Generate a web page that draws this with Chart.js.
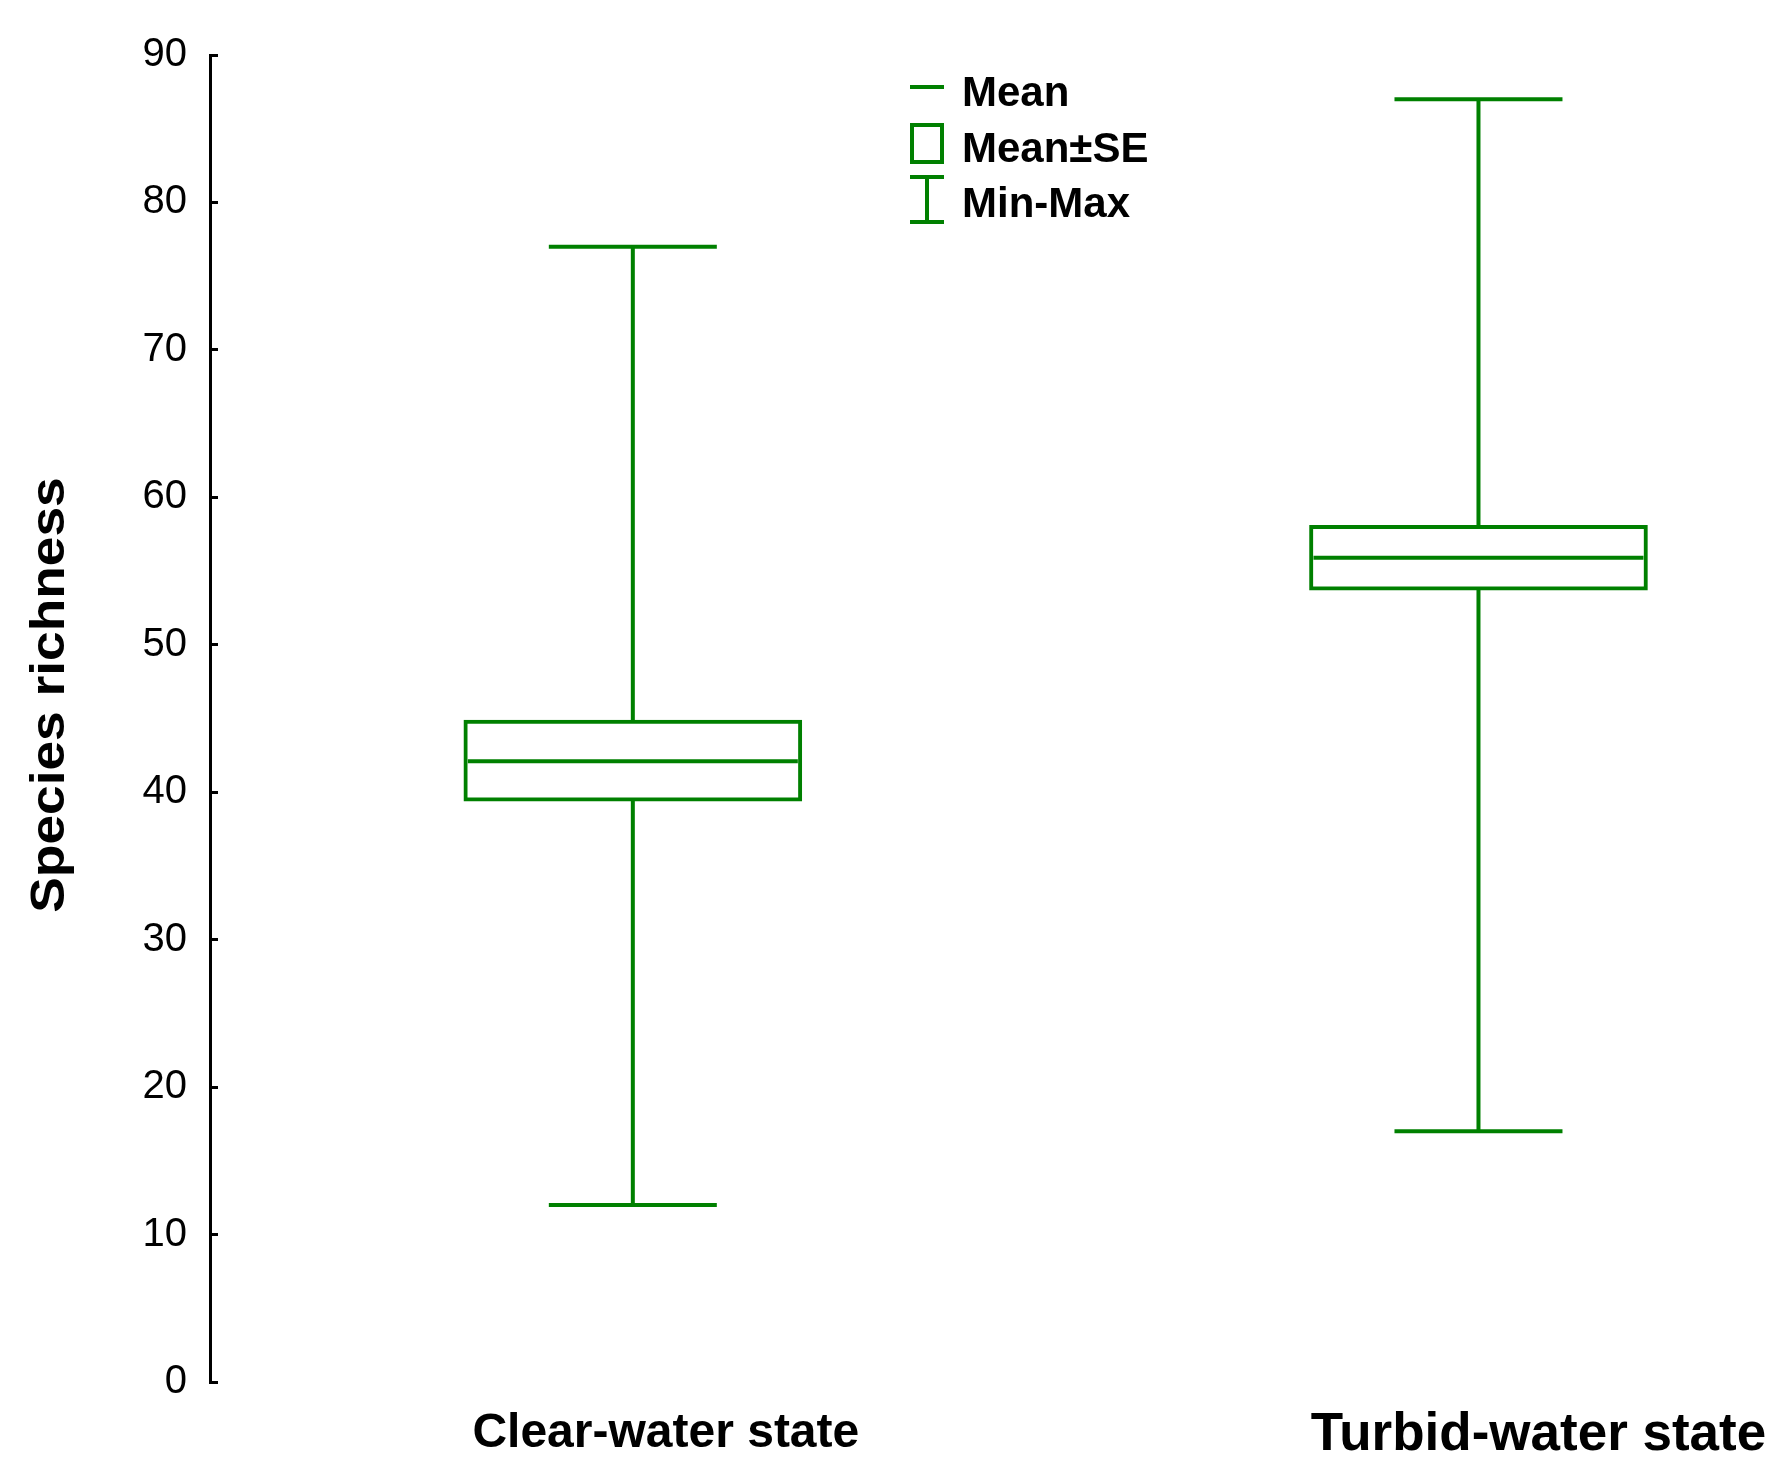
<!DOCTYPE html>
<html>
<head>
<meta charset="utf-8">
<script src="https://cdn.jsdelivr.net/npm/chart.js@4/dist/chart.umd.min.js"></script>
<style>
  html, body { margin: 0; padding: 0; background: #fff; }
  #wrap { width: 1776px; height: 1460px; position: relative; }
</style>
</head>
<body>
<div id="wrap"><canvas id="chart"></canvas></div>
<script>
const categories = ['Clear-water state', 'Turbid-water state'];
const positions = [1, 2];
const means = [42.1, 55.9];
const seLow = [39.4, 53.7];
const seHigh = [44.9, 58.1];
const minVals = [12, 17];
const maxVals = [77, 87];
const legendLabels = ['Mean', 'Mean\u00b1SE', 'Min-Max'];
const yTitle = 'Species richness';

const GREEN = '#008000';
const FONT = '"Liberation Sans", Arial, sans-serif';

// the wide 'line' points would otherwise push a huge padding round the plot
Chart.LineController.prototype.getMaxOverflow = function () { return 2; };

// whisker segments, broken by a null between the two groups
const whiskerData = [];
positions.forEach((p, i) => {
  if (i > 0) whiskerData.push({ x: p - 0.5, y: null });
  whiskerData.push({ x: p, y: maxVals[i] });
  whiskerData.push({ x: p, y: minVals[i] });
});

const capData = [];
positions.forEach((p, i) => {
  capData.push({ x: p, y: maxVals[i] });
  capData.push({ x: p, y: minVals[i] });
});

// axis title, category labels and the little legend
const extras = {
  id: 'extras',
  afterDraw(chart) {
    const ctx = chart.ctx;
    const xs = chart.scales.x;
    const area = chart.chartArea;
    ctx.save();
    ctx.fillStyle = '#000';

    // category labels (sit a bit right of the boxes, like the original)
    const shift = [33, 60];
    const fonts = ['bold 48px ' + FONT, 'bold 53px ' + FONT];
    const drop = [65, 68];
    ctx.textAlign = 'center';
    ctx.textBaseline = 'alphabetic';
    categories.forEach((c, i) => {
      ctx.font = fonts[i];
      ctx.fillText(c, xs.getPixelForValue(positions[i]) + shift[i], area.bottom + drop[i]);
    });

    // y title, a little stretched along its length like the original
    ctx.save();
    ctx.translate(64, 695);
    ctx.rotate(-Math.PI / 2);
    ctx.scale(1.11, 1);
    ctx.font = 'bold 48px ' + FONT;
    ctx.fillText(yTitle, 0, 0);
    ctx.restore();

    // legend
    ctx.strokeStyle = GREEN;
    ctx.lineWidth = 4;
    ctx.beginPath();
    ctx.moveTo(910, 87); ctx.lineTo(944, 87);
    ctx.stroke();
    ctx.strokeRect(912, 125, 30, 37);
    ctx.beginPath();
    ctx.moveTo(910, 177); ctx.lineTo(944, 177);
    ctx.moveTo(927, 177); ctx.lineTo(927, 222);
    ctx.moveTo(910, 222); ctx.lineTo(944, 222);
    ctx.stroke();
    ctx.font = 'bold 42px ' + FONT;
    ctx.textAlign = 'left';
    ctx.textBaseline = 'alphabetic';
    const rowBase = [106, 162, 217];
    legendLabels.forEach((t, i) => ctx.fillText(t, 962, rowBase[i]));
    ctx.restore();
  }
};

new Chart(document.getElementById('chart'), {
  type: 'bar',
  data: {
    datasets: [
      {
        type: 'line',
        label: 'Mean',
        data: positions.map((p, i) => ({ x: p, y: means[i] })),
        showLine: false,
        pointStyle: 'line',
        pointRadius: 165,
        pointHoverRadius: 165,
        pointBorderColor: GREEN,
        pointBorderWidth: 4,
        clip: false,
        order: 0
      },
      {
        label: 'Mean\u00b1SE',
        data: positions.map((p, i) => ({ x: p, y: [seLow[i], seHigh[i]] })),
        backgroundColor: '#fff',
        borderColor: GREEN,
        borderWidth: 4,
        borderSkipped: false,
        barThickness: 338,
        order: 1
      },
      {
        type: 'line',
        label: 'whisker',
        data: whiskerData,
        borderColor: GREEN,
        borderWidth: 4,
        pointRadius: 0,
        spanGaps: false,
        order: 3
      },
      {
        type: 'line',
        label: 'caps',
        data: capData,
        showLine: false,
        pointStyle: 'line',
        pointRadius: 84,
        pointHoverRadius: 84,
        pointBorderColor: GREEN,
        pointBorderWidth: 4,
        clip: false,
        order: 2
      }
    ]
  },
  options: {
    responsive: true,
    maintainAspectRatio: false,
    animation: false,
    events: [],
    layout: { padding: { top: 54, bottom: 78, left: 0, right: 10 } },
    scales: {
      x: {
        type: 'linear',
        display: false,
        offset: false,
        min: 0.5,
        max: 2.34
      },
      y: {
        min: 0,
        max: 90,
        afterFit: (scale) => { scale.width = 210; },
        ticks: {
          stepSize: 10,
          color: '#000',
          padding: 31,
          font: { family: FONT, size: 40 }
        },
        grid: {
          drawOnChartArea: false,
          drawTicks: true,
          tickLength: -8,
          color: '#000',
          lineWidth: 3
        },
        border: { display: true, color: '#000', width: 3 }
      }
    },
    plugins: {
      legend: { display: false },
      tooltip: { enabled: false }
    }
  },
  plugins: [extras]
});
</script>
</body>
</html>
